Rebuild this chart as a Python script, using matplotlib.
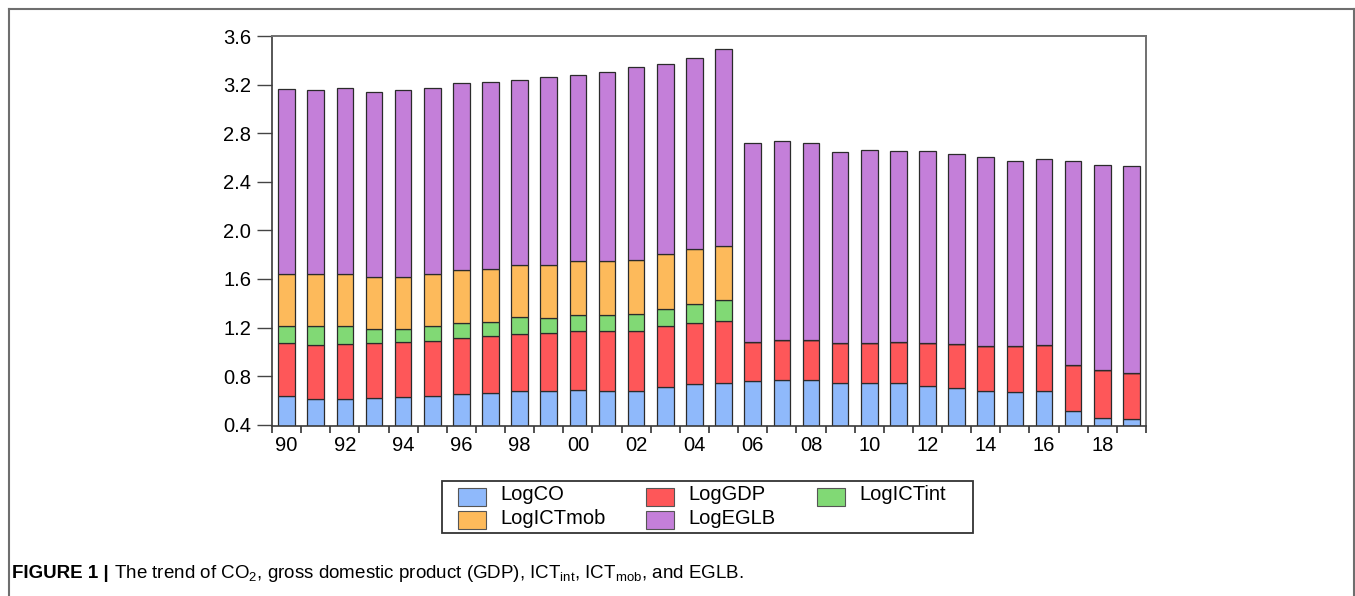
import numpy as np
import matplotlib
matplotlib.use("Agg")
import matplotlib.pyplot as plt
from matplotlib.lines import Line2D
from matplotlib.patches import Rectangle

plt.rcParams['font.family'] = ['Liberation Sans', 'DejaVu Sans']
plt.rcParams['mathtext.default'] = 'regular'

# data (stacked segments, years 1990-2019)
years = list(range(1990, 2020))
log_co = [0.638, 0.614, 0.614, 0.620, 0.630, 0.636, 0.652, 0.661, 0.677, 0.677,
          0.690, 0.682, 0.674, 0.710, 0.735, 0.743, 0.757, 0.768, 0.768, 0.740,
          0.746, 0.740, 0.723, 0.702, 0.680, 0.669, 0.680, 0.513, 0.458, 0.450]
log_gdp = [0.434, 0.441, 0.447, 0.452, 0.450, 0.452, 0.461, 0.466, 0.472, 0.477,
           0.486, 0.489, 0.497, 0.502, 0.502, 0.510, 0.328, 0.331, 0.331, 0.332,
           0.326, 0.343, 0.352, 0.359, 0.365, 0.376, 0.378, 0.381, 0.389, 0.378]
log_ictint = [0.145, 0.162, 0.151, 0.115, 0.107, 0.124, 0.126, 0.118, 0.137, 0.126,
              0.126, 0.131, 0.142, 0.145, 0.161, 0.170, 0, 0, 0, 0,
              0, 0, 0, 0, 0, 0, 0, 0, 0, 0]
log_ictmob = [0.425, 0.425, 0.430, 0.428, 0.428, 0.430, 0.433, 0.435, 0.433, 0.439,
              0.444, 0.444, 0.444, 0.447, 0.450, 0.452, 0, 0, 0, 0,
              0, 0, 0, 0, 0, 0, 0, 0, 0, 0]
log_eglb = [1.522, 1.516, 1.528, 1.522, 1.543, 1.533, 1.541, 1.539, 1.522, 1.541,
            1.536, 1.555, 1.585, 1.566, 1.571, 1.621, 1.632, 1.640, 1.618, 1.574,
            1.593, 1.568, 1.576, 1.571, 1.560, 1.527, 1.533, 1.675, 1.692, 1.705]

names = ["LogCO", "LogGDP", "LogICTint", "LogICTmob", "LogEGLB"]
values = [log_co, log_gdp, log_ictint, log_ictmob, log_eglb]
colors = ["#8fb9fb", "#fe5759", "#81d975", "#fdba5b", "#c47fd9"]

W, H = 1355, 596
fig = plt.figure(figsize=(W / 100, H / 100), dpi=100)


def fx(x):
    return x / W


def fy(y):
    return 1 - y / H


ax = fig.add_axes([fx(272), fy(426), (1146 - 272) / W, (426 - 36) / H])

x = np.arange(len(years))
bottom = np.zeros(len(years))
for vals, col in zip(values, colors):
    vals = np.array(vals)
    ax.bar(x, vals, 0.57, bottom=bottom, color=col, edgecolor="#2b2b2b", linewidth=0.9)
    bottom = bottom + vals

ax.set_xlim(-0.5, len(years) - 0.5)
ax.set_ylim(0.39, 3.6)
yt = np.arange(0.4, 3.61, 0.4)
ax.set_yticks(yt)
ax.set_yticklabels(["%.1f" % v for v in yt])

# ticks at bar edges, labels under every second bar
ax.set_xticks(np.arange(-0.5, len(years), 1.0))
ax.set_xticklabels([])
ax.set_xticks(x[::2], minor=True)
ax.set_xticklabels(["%02d" % (y % 100) for y in years[::2]], minor=True)
ax.tick_params(axis="x", which="major", length=5, width=1.2, color="#333333")
ax.tick_params(axis="x", which="minor", length=0, pad=7, labelsize=14.5)
ax.tick_params(axis="y", length=11, width=1.0, color="#444444", pad=4, labelsize=14.5)

for s in ["left", "bottom"]:
    ax.spines[s].set_color("#3a3a3a")
    ax.spines[s].set_linewidth(1.2)
for s in ["top", "right"]:
    ax.spines[s].set_color("#707070")
    ax.spines[s].set_linewidth(1.4)

# legend box drawn by hand, entries laid out row by row
fig.add_artist(Rectangle((fx(442), fy(533)), (973 - 442) / W, (533 - 481) / H,
                         transform=fig.transFigure, facecolor="white",
                         edgecolor="#333333", linewidth=1.3))
col_x = [458, 646, 817]
row_y = [497, 520]
for i, (name, col) in enumerate(zip(names, colors)):
    r, c = divmod(i, 3)
    px, py = col_x[c], row_y[r]
    fig.add_artist(Rectangle((fx(px), fy(py + 9)), 28 / W, 18 / H,
                             transform=fig.transFigure, facecolor=col,
                             edgecolor="#555555", linewidth=0.8))
    fig.text(fx(px + 42), fy(py - 2), name, fontsize=14.5, va="center", ha="left")

# outer frame of the figure panel
fc = "#6e6e6e"
fig.add_artist(Line2D([fx(9), fx(9)], [0, fy(9)], color=fc, lw=1.5))
fig.add_artist(Line2D([fx(9), fx(1354)], [fy(9), fy(9)], color=fc, lw=1.5))
fig.add_artist(Line2D([fx(1354), fx(1354)], [0, fy(9)], color=fc, lw=1.5))

t1 = fig.text(fx(12), fy(574), "FIGURE 1 |", fontsize=13.5, fontweight="bold",
              va="center", ha="left")
ax.annotate(" The trend of CO$_2$, gross domestic product (GDP), ICT$_{int}$, ICT$_{mob}$, and EGLB.",
            xy=(1, 0.5), xycoords=t1, va="center", ha="left", fontsize=13.5,
            annotation_clip=False)

fig.savefig("out.png", dpi=100)
